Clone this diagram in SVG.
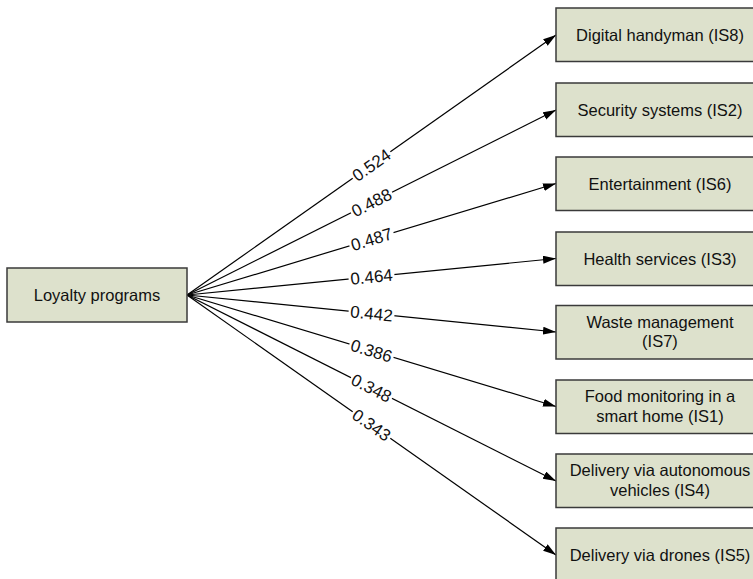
<svg xmlns="http://www.w3.org/2000/svg" width="753" height="579" viewBox="0 0 753 579">
<style>
.box{fill:#dde1cc;stroke:#3a3a3a;stroke-width:1.5}
.t{font-family:"Liberation Sans",Arial,sans-serif;font-size:16.5px;fill:#111;text-anchor:middle}
.n{font-family:"Liberation Sans",Arial,sans-serif;font-size:17px;fill:#111;text-anchor:middle}
.c{stroke:#000;stroke-width:1.2;fill:none}
.lb{fill:#fff}
</style>
<defs>
<marker id="ah" markerUnits="userSpaceOnUse" markerWidth="14" markerHeight="9" refX="13" refY="4" orient="auto">
<path d="M0,0 L13,4 L0,8 Z" fill="#000"/>
</marker>
</defs>
<g id="connectors">
<line class="c" x1="187" y1="295" x2="556" y2="35" marker-end="url(#ah)"/>
<line class="c" x1="187" y1="295" x2="556" y2="110" marker-end="url(#ah)"/>
<line class="c" x1="187" y1="295" x2="556" y2="183.5" marker-end="url(#ah)"/>
<line class="c" x1="187" y1="295" x2="556" y2="258.5" marker-end="url(#ah)"/>
<line class="c" x1="187" y1="295" x2="556" y2="332" marker-end="url(#ah)"/>
<line class="c" x1="187" y1="295" x2="556" y2="406.5" marker-end="url(#ah)"/>
<line class="c" x1="187" y1="295" x2="556" y2="481" marker-end="url(#ah)"/>
<line class="c" x1="187" y1="295" x2="556" y2="555" marker-end="url(#ah)"/>
<g transform="translate(371.5,165) rotate(-35.17)"><rect class="lb" x="-23" y="-7" width="46" height="14"/><text class="n" y="6">0.524</text></g>
<g transform="translate(371.5,202.5) rotate(-26.63)"><rect class="lb" x="-23" y="-7" width="46" height="14"/><text class="n" y="6">0.488</text></g>
<g transform="translate(371.5,239.25) rotate(-16.81)"><rect class="lb" x="-23" y="-7" width="46" height="14"/><text class="n" y="6">0.487</text></g>
<g transform="translate(371.5,276.75) rotate(-5.65)"><rect class="lb" x="-23" y="-7" width="46" height="14"/><text class="n" y="6">0.464</text></g>
<g transform="translate(371.5,313.5) rotate(5.73)"><rect class="lb" x="-23" y="-7" width="46" height="14"/><text class="n" y="6">0.442</text></g>
<g transform="translate(371.5,350.75) rotate(16.81)"><rect class="lb" x="-23" y="-7" width="46" height="14"/><text class="n" y="6">0.386</text></g>
<g transform="translate(371.5,388) rotate(26.75)"><rect class="lb" x="-23" y="-7" width="46" height="14"/><text class="n" y="6">0.348</text></g>
<g transform="translate(371.5,425) rotate(35.17)"><rect class="lb" x="-23" y="-7" width="46" height="14"/><text class="n" y="6">0.343</text></g>
</g>
<g id="loyalty"><rect class="box" x="7" y="268" width="180" height="54"/><text class="t" x="97" y="301">Loyalty programs</text></g>
<g id="is8"><rect class="box" x="556" y="8" width="210" height="53.5"/><text class="t" x="660" y="40.5">Digital handyman (IS8)</text></g>
<g id="is2"><rect class="box" x="556" y="83" width="210" height="53.5"/><text class="t" x="660" y="115.5">Security systems (IS2)</text></g>
<g id="is6"><rect class="box" x="556" y="157" width="210" height="53.5"/><text class="t" x="660" y="189.5">Entertainment (IS6)</text></g>
<g id="is3"><rect class="box" x="556" y="232" width="210" height="53.5"/><text class="t" x="660" y="264.5">Health services (IS3)</text></g>
<g id="is7"><rect class="box" x="556" y="305.5" width="210" height="53.5"/><text class="t" x="660" y="327.5">Waste management</text><text class="t" x="660" y="347">(IS7)</text></g>
<g id="is1"><rect class="box" x="556" y="380" width="210" height="53.5"/><text class="t" x="660" y="402">Food monitoring in a</text><text class="t" x="660" y="421.5">smart home (IS1)</text></g>
<g id="is4"><rect class="box" x="556" y="454" width="210" height="53.5"/><text class="t" x="660" y="476">Delivery via autonomous</text><text class="t" x="660" y="495.5">vehicles (IS4)</text></g>
<g id="is5"><rect class="box" x="556" y="528" width="210" height="54"/><text class="t" x="660" y="561">Delivery via drones (IS5)</text></g>
</svg>
